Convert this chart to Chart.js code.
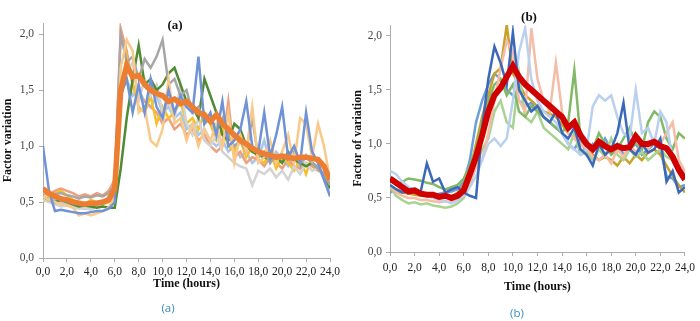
<!DOCTYPE html>
<html>
<head>
<meta charset="utf-8">
<script src="https://cdn.jsdelivr.net/npm/chart.js@4"></script>
<style>
  body { margin: 0; background: #fff; }
  #wrap { position: relative; width: 700px; height: 321px; overflow: hidden; }
  canvas { position: absolute; top: 0; }
  .title { position: absolute; font: bold 13px "Liberation Serif", serif; color: #111; transform: translate(-50%, -50%); }
  .caption { position: absolute; font: 11.5px "Open Sans", sans-serif; color: #3a8dbf; transform: translate(-50%, -50%); }
</style>
</head>
<body>
<div id="wrap">
  <canvas id="chartA" width="350" height="300" style="left:0"></canvas>
  <canvas id="chartB" width="350" height="300" style="left:350px"></canvas>
  <div class="title" style="left:175px; top:25px">(a)</div>
  <div class="title" style="left:529px; top:17px">(b)</div>
  <div class="caption" style="left:168px; top:307px">(a)</div>
  <div class="caption" style="left:517px; top:312px">(b)</div>
</div>
<script>
// time of day, every half hour
const hours = [0, 0.5, 1, 1.5, 2, 2.5, 3, 3.5, 4, 4.5, 5, 5.5, 6, 6.5, 7, 7.5, 8, 8.5, 9, 9.5,
    10, 10.5, 11, 11.5, 12, 12.5, 13, 13.5, 14, 14.5, 15, 15.5, 16, 16.5, 17, 17.5, 18, 18.5, 19, 19.5,
    20, 20.5, 21, 21.5, 22, 22.5, 23, 23.5, 24];
const yTicks = [0, 0.5, 1, 1.5, 2];

// panel (a)
const meanA = [0.62, 0.58, 0.55, 0.53, 0.52, 0.50, 0.49, 0.48, 0.49, 0.49, 0.50, 0.52, 0.62, 1.50, 1.72, 1.62, 1.63, 1.55, 1.50, 1.47,
    1.45, 1.40, 1.42, 1.38, 1.40, 1.35, 1.30, 1.28, 1.22, 1.28, 1.20, 1.15, 1.10, 1.05, 1.02, 0.98, 0.95, 0.93, 0.92, 0.90,
    0.91, 0.90, 0.89, 0.90, 0.90, 0.89, 0.88, 0.82, 0.70];
const a1 = [1.00, 0.60, 0.42, 0.43, 0.42, 0.41, 0.40, 0.40, 0.41, 0.42, 0.42, 0.44, 0.50, 1.45, 1.60, 1.30, 1.55, 1.30, 1.60, 1.35,
    1.25, 1.50, 1.30, 1.45, 1.35, 1.30, 1.80, 1.20, 1.30, 1.10, 1.40, 1.00, 1.05, 1.15, 1.40, 1.00, 0.95, 1.30, 0.90, 1.10,
    1.35, 0.90, 1.00, 0.85, 1.30, 0.95, 0.85, 0.70, 0.55];
const a2 = [0.55, 0.52, 0.50, 0.48, 0.47, 0.45, 0.38, 0.40, 0.38, 0.40, 0.42, 0.45, 0.55, 1.70, 1.95, 1.85, 1.30, 1.35, 1.05, 1.00,
    1.15, 1.60, 1.20, 1.25, 1.05, 1.20, 1.00, 1.15, 1.05, 1.20, 1.00, 1.30, 0.85, 1.10, 0.95, 1.35, 0.85, 0.90, 1.05, 0.85,
    0.95, 1.10, 0.85, 1.25, 1.20, 0.90, 1.20, 1.00, 0.70];
const a3 = [0.60, 0.58, 0.57, 0.58, 0.56, 0.55, 0.53, 0.55, 0.54, 0.56, 0.55, 0.58, 0.65, 2.00, 1.75, 1.80, 1.60, 1.78, 1.70, 1.80,
    1.95, 1.55, 1.60, 1.45, 1.50, 1.30, 1.35, 1.20, 1.25, 1.15, 1.25, 1.10, 1.00, 1.05, 0.95, 1.25, 0.90, 0.95, 0.85, 0.92,
    0.90, 0.88, 0.95, 0.85, 0.90, 0.85, 0.80, 0.75, 0.65];
const a4 = [0.55, 0.52, 0.50, 0.52, 0.50, 0.48, 0.46, 0.47, 0.46, 0.45, 0.46, 0.45, 0.45, 0.80, 1.25, 1.60, 1.90, 1.55, 1.60, 1.50,
    1.55, 1.65, 1.70, 1.55, 1.40, 1.35, 1.25, 1.60, 1.45, 1.30, 1.10, 1.05, 1.20, 1.15, 1.00, 0.95, 0.92, 0.90, 0.88, 0.90,
    0.85, 0.95, 0.88, 0.85, 0.82, 0.85, 0.80, 0.75, 0.62];
const a5 = [0.52, 0.50, 0.48, 0.46, 0.47, 0.45, 0.44, 0.45, 0.43, 0.46, 0.50, 0.55, 0.62, 1.60, 1.65, 1.75, 1.40, 1.60, 1.45, 1.55,
    1.30, 1.40, 1.25, 1.55, 1.20, 1.10, 1.25, 1.05, 1.00, 1.10, 0.95, 0.90, 0.85, 0.82, 0.80, 0.65, 0.78, 0.75, 0.80, 0.72,
    0.78, 0.70, 0.82, 0.75, 0.85, 0.78, 0.80, 0.72, 0.60];
const a6 = [0.50, 0.55, 0.58, 0.60, 0.56, 0.52, 0.50, 0.48, 0.52, 0.50, 0.48, 0.50, 0.55, 1.40, 1.80, 1.55, 1.35, 1.30, 1.45, 1.20,
    1.35, 1.25, 1.30, 1.40, 1.20, 1.25, 1.15, 1.30, 1.20, 1.05, 1.15, 1.00, 0.95, 1.05, 0.90, 1.00, 0.88, 0.85, 0.95, 0.80,
    0.90, 0.85, 0.78, 0.88, 0.75, 0.92, 0.85, 0.80, 0.65];
const a7 = [0.58, 0.56, 0.60, 0.62, 0.60, 0.58, 0.55, 0.57, 0.55, 0.58, 0.56, 0.60, 0.70, 2.05, 1.85, 1.55, 1.45, 1.40, 1.35, 1.30,
    1.20, 1.25, 1.15, 1.20, 1.10, 1.15, 1.05, 1.10, 1.00, 0.95, 1.00, 1.40, 0.90, 0.95, 0.85, 0.90, 0.88, 0.82, 0.90, 0.85,
    0.80, 0.88, 0.82, 0.80, 0.85, 0.82, 0.78, 0.75, 0.62];
const a8 = [0.60, 0.55, 0.52, 0.50, 0.48, 0.47, 0.45, 0.44, 0.45, 0.47, 0.48, 0.52, 0.60, 1.55, 1.60, 1.45, 1.50, 1.40, 1.35, 1.45,
    1.30, 1.35, 1.25, 1.30, 1.15, 1.20, 1.10, 1.15, 1.05, 1.00, 1.05, 0.95, 1.00, 0.90, 0.95, 0.85, 0.90, 1.05, 0.85, 0.95,
    0.88, 0.82, 0.90, 0.80, 0.92, 0.85, 0.82, 0.70, 0.58];

// panel (b)
const meanB = [0.68, 0.64, 0.60, 0.56, 0.57, 0.54, 0.53, 0.53, 0.51, 0.52, 0.50, 0.52, 0.57, 0.72, 0.88, 1.08, 1.30, 1.45, 1.52, 1.62,
    1.72, 1.62, 1.55, 1.50, 1.45, 1.40, 1.35, 1.30, 1.25, 1.15, 1.20, 1.08, 1.00, 0.95, 1.02, 0.98, 0.95, 0.98, 0.96, 0.97,
    1.07, 1.00, 1.00, 1.02, 0.98, 0.96, 0.88, 0.76, 0.67];
const b1 = [0.62, 0.58, 0.55, 0.56, 0.55, 0.56, 0.82, 0.65, 0.68, 0.55, 0.58, 0.60, 0.55, 0.52, 0.50, 1.15, 1.60, 1.90, 1.75, 1.55,
    2.03, 1.50, 1.40, 1.30, 1.35, 1.25, 1.20, 1.30, 1.10, 1.05, 1.15, 0.95, 0.90, 0.80, 1.00, 0.90, 0.95, 1.10, 1.38, 0.95,
    0.90, 1.00, 0.92, 0.95, 1.05, 0.65, 0.75, 0.55, 0.60];
const b2 = [0.75, 0.72, 0.65, 0.60, 0.58, 0.55, 0.52, 0.50, 0.48, 0.47, 0.45, 0.48, 0.52, 0.60, 0.70, 0.85, 1.00, 1.05, 0.98, 1.05,
    1.40, 1.85, 2.07, 1.60, 1.40, 1.30, 1.25, 1.20, 1.10, 1.00, 0.95, 0.90, 0.95, 1.35, 1.45, 1.40, 1.45, 1.25, 1.10, 1.05,
    1.50, 1.10, 1.15, 1.00, 1.30, 1.20, 0.85, 0.75, 0.70];
const b3 = [0.62, 0.55, 0.52, 0.50, 0.50, 0.48, 0.48, 0.47, 0.46, 0.47, 0.46, 0.48, 0.55, 0.65, 0.78, 0.85, 1.10, 1.40, 1.70, 1.95,
    1.85, 1.40, 1.30, 2.07, 1.60, 1.40, 1.30, 1.75, 1.30, 1.10, 1.05, 1.00, 0.95, 0.88, 0.85, 0.90, 0.82, 0.95, 0.88, 1.00,
    0.92, 1.00, 0.95, 1.05, 1.00, 1.10, 1.20, 0.85, 0.75];
const b4 = [0.70, 0.62, 0.65, 0.68, 0.67, 0.66, 0.64, 0.63, 0.60, 0.58, 0.60, 0.62, 0.68, 0.80, 0.95, 1.20, 1.40, 1.55, 1.60, 1.45,
    1.55, 1.30, 1.25, 1.35, 1.30, 1.25, 1.20, 1.15, 1.10, 1.20, 1.68, 1.05, 1.00, 0.95, 1.10, 1.00, 0.90, 0.95, 1.05, 1.15,
    1.00, 0.95, 1.20, 1.30, 1.25, 1.05, 0.95, 1.10, 1.05];
const b5 = [0.60, 0.52, 0.48, 0.45, 0.46, 0.44, 0.45, 0.43, 0.42, 0.41, 0.42, 0.45, 0.50, 0.62, 0.80, 0.95, 1.05, 1.30, 1.40, 1.20,
    1.15, 1.65, 1.25, 1.20, 1.30, 1.15, 1.10, 1.05, 1.00, 0.95, 1.10, 0.90, 0.92, 0.85, 0.95, 0.88, 1.05, 0.90, 0.85, 0.95,
    0.88, 0.92, 0.85, 0.90, 0.95, 0.88, 0.85, 0.80, 0.72];
const b6 = [0.58, 0.55, 0.55, 0.54, 0.53, 0.52, 0.52, 0.51, 0.50, 0.52, 0.51, 0.55, 0.62, 0.75, 1.00, 1.25, 1.45, 1.65, 1.70, 2.10,
    1.65, 1.55, 1.45, 1.40, 1.35, 1.30, 1.28, 1.25, 1.18, 1.10, 1.05, 1.00, 0.95, 0.90, 0.85, 0.88, 0.85, 0.80, 0.88, 0.82,
    0.90, 0.85, 0.92, 0.95, 0.90, 0.80, 0.70, 0.62, 0.55];
const b7 = [0.55, 0.58, 0.56, 0.55, 0.54, 0.55, 0.53, 0.52, 0.54, 0.55, 0.56, 0.58, 0.65, 0.85, 1.20, 1.40, 1.55, 1.65, 1.60, 1.50,
    1.45, 1.40, 1.35, 1.38, 1.30, 1.25, 1.20, 1.15, 1.10, 1.00, 0.95, 1.05, 0.90, 1.00, 0.95, 1.05, 0.95, 1.00, 0.90, 0.95,
    1.00, 0.90, 0.95, 1.00, 0.95, 0.70, 0.68, 0.60, 0.62];

function toPoints(values) {
    return hours.map((h, i) => ({ x: h, y: values[i] }));
}

function line(values, color, width) {
    return {
        data: toPoints(values),
        borderColor: color,
        borderWidth: width,
        pointRadius: 0,
        tension: 0,
        fill: false
    };
}

function commaFmt(v) {
    return Number(v).toFixed(1).replace('.', ',');
}

function makeChart(id, datasets, yTitle, box) {
    const ctx = document.getElementById(id).getContext('2d');
    const axisColor = '#acacac';
    new Chart(ctx, {
        type: 'line',
        data: { datasets: datasets },
        options: {
            responsive: false,
            animation: false,
            events: [],
            layout: { padding: { left: 0, top: box.top, right: box.right, bottom: 0 } },
            plugins: { legend: { display: false }, tooltip: { enabled: false } },
            scales: {
                x: {
                    type: 'linear',
                    min: 0,
                    max: 24,
                    grid: { display: true, drawOnChartArea: false, drawTicks: true, tickLength: 4, color: axisColor },
                    border: { display: true, color: axisColor },
                    ticks: {
                        stepSize: 2,
                        padding: box.xTickPad,
                        maxRotation: 0,
                        autoSkip: false,
                        color: '#222',
                        font: { family: 'Liberation Serif', size: 11.5 },
                        callback: v => commaFmt(v)
                    },
                    title: {
                        display: true,
                        text: 'Time (hours)',
                        color: '#111',
                        font: { family: 'Liberation Serif', size: 12, weight: 'bold' },
                        padding: { top: 0, bottom: box.xTitlePad }
                    },
                    afterFit: s => { s.height = box.xHeight; }
                },
                y: {
                    min: 0,
                    max: 2.1,
                    afterBuildTicks: axis => { axis.ticks = yTicks.map(v => ({ value: v })); },
                    grid: { display: true, drawOnChartArea: false, drawTicks: true, tickLength: 4, color: axisColor },
                    border: { display: true, color: axisColor },
                    ticks: {
                        padding: box.yTickPad,
                        color: '#444',
                        font: { family: 'Liberation Serif', size: 11.5 },
                        callback: v => commaFmt(v)
                    },
                    title: {
                        display: true,
                        text: yTitle,
                        color: '#111',
                        font: { family: 'Liberation Serif', size: 12, weight: 'bold' },
                        padding: { top: 1, bottom: 0 }
                    },
                    afterFit: s => { s.width = box.yWidth; }
                }
            }
        }
    });
}

makeChart('chartA', [
    line(meanA, '#ED7D31', 5.5),
    line(a1, '#7092D6', 2.5),
    line(a2, '#F9C98A', 2.5),
    line(a3, '#A6A6A6', 2.5),
    line(a4, '#4F8B33', 2.5),
    line(a5, '#D3D3D3', 2.5),
    line(a6, '#F5C02C', 2.5),
    line(a7, '#EE9F7E', 2.5),
    line(a8, '#A9C8E8', 2.5)
], 'Factor variation', { top: 23, right: 20, yWidth: 43, xHeight: 42, xTickPad: 3, xTitlePad: 9, yTickPad: 5 });

makeChart('chartB', [
    line(meanB, '#D00000', 6),
    line(b1, '#3C68BA', 2.5),
    line(b2, '#B9D0EE', 2.5),
    line(b3, '#F5BCA8', 2.5),
    line(b4, '#82B866', 2.5),
    line(b5, '#A8D390', 2.5),
    line(b6, '#C8A12A', 2.5),
    line(b7, '#6A9FD8', 2.5)
], 'Factor of variation', { top: 25, right: 12, yWidth: 40, xHeight: 48, xTickPad: 5, xTitlePad: 6, yTickPad: 4 });
</script>
</body>
</html>
